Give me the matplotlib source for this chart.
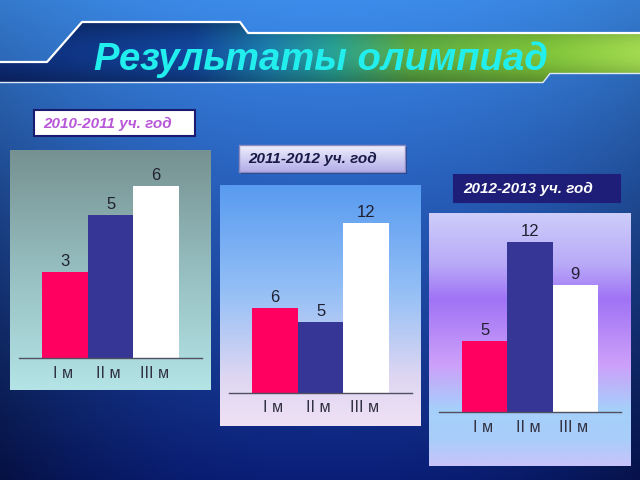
import numpy as np
import matplotlib.pyplot as plt
from matplotlib.colors import LinearSegmentedColormap
from matplotlib.patches import Polygon, Rectangle

plt.rcParams['font.family'] = ['Liberation Sans', 'DejaVu Sans']

# ---------------- data ----------------
title = "Результаты олимпиад"
categories = ["I м", "II м", "III м"]
years = ["2010-2011 уч. год", "2011-2012 уч. год", "2012-2013 уч. год"]
values_2010 = [3, 5, 6]
values_2011 = [6, 5, 12]
values_2012 = [5, 12, 9]
bar_colors = ["#ff0060", "#363696", "#ffffff"]

W, H = 640, 480
fig = plt.figure(figsize=(6.4, 4.8), dpi=100)


def px_axes(x0, y0, x1, y1, z=1):
    ax = fig.add_axes([x0 / W, 1 - y1 / H, (x1 - x0) / W, (y1 - y0) / H])
    ax.set_zorder(z)
    return ax


def vgrad(stops, n=256):
    cm = LinearSegmentedColormap.from_list(
        "g", [(p, np.array(c) / 255.0) for p, c in stops])
    return cm(np.linspace(0, 1, n))[:, None, :3]


# ---------------- slide background ----------------
bg = px_axes(0, 0, W, H, z=0)
bg.set_xlim(0, W)
bg.set_ylim(H, 0)
bg.axis('off')
yy, xx = np.mgrid[0:H, 0:W] + 0.5
t = yy / H
top = np.array([60, 140, 235]) / 255
bot = np.array([10, 30, 120]) / 255
base = top[None, None, :] * (1 - t[..., None] ** 1.0) + bot[None, None, :] * (t[..., None] ** 1.0)
d = np.abs(xx - 330) / 330
dark = 1 - 0.45 * (d ** 2.2) * (0.3 + 0.7 * t)
img = np.clip(base * dark[..., None], 0, 1)
bg.imshow(img, extent=[0, W, H, 0], aspect='auto', interpolation='bilinear')

# banner
banner_pts = [(0, 62), (47, 62), (82, 22), (240, 22), (248, 33), (640, 33),
              (640, 73), (550, 73), (543, 82), (0, 82)]
poly = Polygon(banner_pts, closed=True, facecolor='none', edgecolor='none')
bg.add_patch(poly)
hcm = LinearSegmentedColormap.from_list("b", [
    (0.0, (12/255, 38/255, 105/255)),
    (0.30, (16/255, 60/255, 135/255)),
    (0.42, (25/255, 110/255, 150/255)),
    (0.52, (35/255, 140/255, 130/255)),
    (0.64, (80/255, 150/255, 60/255)),
    (0.85, (110/255, 170/255, 50/255)),
    (1.0, (140/255, 190/255, 70/255))])
bimg = hcm(np.linspace(0, 1, 640))[None, :, :3]
vshade = (0.85 + 0.3 * np.sin(np.linspace(0, np.pi, 60)))[:, None, None]
bimg = np.clip(bimg * vshade, 0, 1)
im = bg.imshow(bimg, extent=[0, 640, 82, 22], aspect='auto', interpolation='bilinear')
im.set_clip_path(poly)
bg.plot([0, 47, 82, 240, 248, 640], [62, 62, 22, 22, 33, 33], color='white', lw=1.6)
bg.plot([0, 543, 550, 640], [82.5, 82.5, 73.5, 73.5], color='#dde8f8', lw=1.0)
bg.text(321, 60, title, color='#22eeee', fontsize=27.5, fontweight='bold',
        style='italic', ha='center', va='center')


# ---------------- panels ----------------
def panel(values, box, base_y, unit, bar_left, bar_w, stops):
    x0, y0, x1, y1 = box
    ax = px_axes(x0, y0, x1, y1, z=2)
    c0 = bar_left + bar_w / 2
    ax.set_xlim((x0 - c0) / bar_w, (x1 - c0) / bar_w)
    ax.set_ylim(-(y1 - base_y) / unit, (base_y - y0) / unit)
    ax.axis('off')
    ax.imshow(vgrad(stops), extent=[0, 1, 0, 1], transform=ax.transAxes,
              aspect='auto', zorder=0, interpolation='bilinear')
    xs = np.arange(len(values))
    ax.bar(xs, values, width=1.0, color=bar_colors, zorder=2)
    ax.plot([-1.0, 3.0], [0, 0], color='#505060', lw=1.0, zorder=3)
    for i, v in enumerate(values):
        ax.annotate(str(v), (xs[i], v), xytext=(0, 3), textcoords='offset pixels',
                    ha='center', va='bottom', fontsize=12, color='#202030')
        ax.annotate(categories[i], (xs[i], 0), xytext=(-2, -15),
                    textcoords='offset pixels', ha='center', va='center',
                    fontsize=11.5, color='#303040')
    return ax


panel(values_2010, (10, 150, 211, 390), 358, 28.6, 42, 45.7,
      [(0.0, (118, 145, 145)), (0.5, (150, 190, 192)), (1.0, (180, 228, 230))])
panel(values_2011, (220, 185, 421, 426), 393, 14.2, 252, 45.7,
      [(0.0, (88, 155, 240)), (0.45, (150, 192, 246)), (0.8, (222, 215, 242)),
       (1.0, (240, 225, 245))])
panel(values_2012, (429, 213, 631, 466), 412, 14.15, 462, 45.3,
      [(0.0, (205, 205, 250)), (0.2, (185, 170, 248)), (0.34, (160, 115, 245)),
       (0.6, (205, 160, 250)), (0.78, (165, 208, 250)), (0.9, (170, 205, 250)),
       (1.0, (200, 195, 250))])

# ---------------- year label boxes ----------------
def label_box(box, text, face, edge, tcol, grad=None, shadow=False):
    x0, y0, x1, y1 = box
    if shadow:
        bg.add_patch(Rectangle((x0 + 2, y0 + 2), x1 - x0, y1 - y0,
                               facecolor='#0a1a50', alpha=0.5, edgecolor='none', zorder=3))
    if grad is not None:
        bg.imshow(vgrad(grad), extent=[x0, x1, y1, y0], aspect='auto', zorder=4,
                  interpolation='bilinear')
        bg.add_patch(Rectangle((x0, y0), x1 - x0, y1 - y0, facecolor='none',
                               edgecolor=edge, lw=1.0, zorder=5))
    else:
        bg.add_patch(Rectangle((x0, y0), x1 - x0, y1 - y0, facecolor=face,
                               edgecolor=edge, lw=1.5, zorder=4))
    bg.text(x0 + 9, (y0 + y1) / 2 + 0.5, text, color=tcol, fontsize=11,
            fontweight='bold', style='italic', ha='left', va='center', zorder=6)


label_box((34, 110, 195, 136), years[0], 'white', '#1a1a70', '#b858d8')
label_box((239, 145, 405, 172), years[1], None, '#8a8ac0', '#1a1a48',
          grad=[(0.0, (240, 240, 252)), (1.0, (178, 172, 232))], shadow=True)
label_box((454, 175, 620, 202), years[2], '#1e1e78', '#1e1e78', 'white')

bg.set_xlim(0, W)
bg.set_ylim(H, 0)
fig.savefig('out.png', dpi=100)
